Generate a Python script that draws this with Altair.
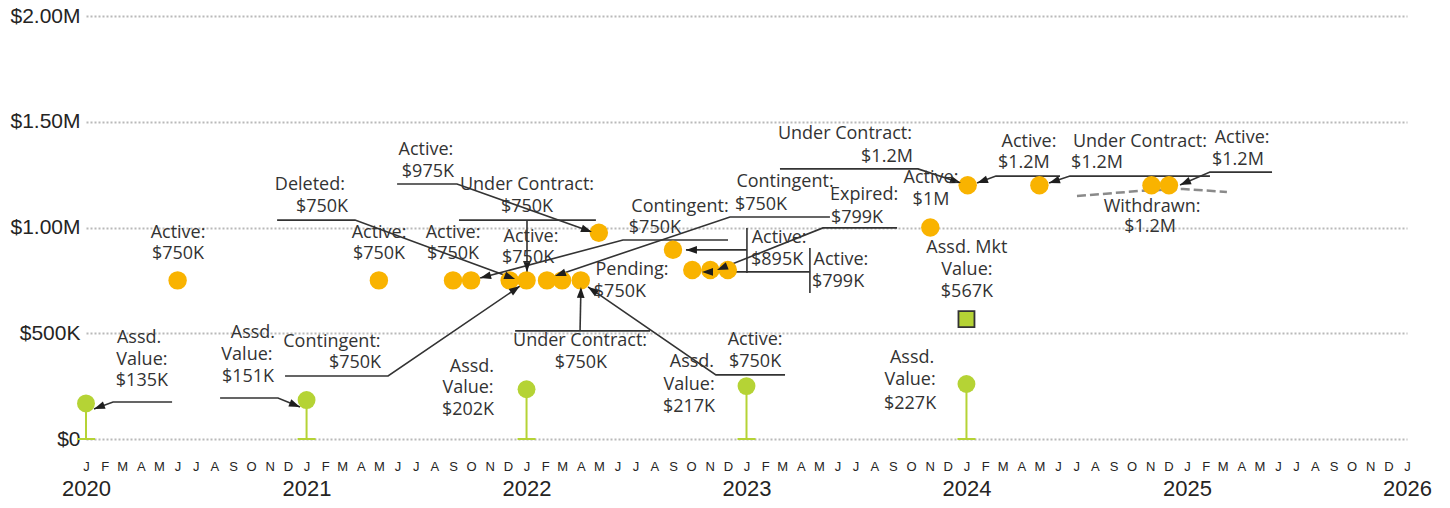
import math
import altair as alt
import pandas as pd

# ---------------- data ----------------
W, H = 1321, 423
YMAX = 2_000_000
T0 = pd.Timestamp("2020-01-01")
T1 = pd.Timestamp("2026-01-01")

listing_dates = ["2020-06-01", "2021-05-01", "2021-09-01", "2021-10-01", "2021-12-04",
                 "2022-01-01", "2022-02-04", "2022-03-01", "2022-04-01", "2022-05-01",
                 "2022-09-01", "2022-10-03", "2022-11-02", "2022-12-01", "2023-11-02",
                 "2024-01-03", "2024-05-01", "2024-11-03", "2024-12-02"]
listing_values = [750000, 750000, 750000, 750000, 750000,
                  750000, 750000, 750000, 750000, 975000,
                  895000, 799000, 799000, 799000, 1000000,
                  1200000, 1200000, 1200000, 1200000]

assd_dates = ["2020-01-01", "2021-01-01", "2022-01-01", "2023-01-01", "2024-01-01"]
assd_values = [135000, 151000, 202000, 217000, 227000]

mkt_dates = ["2024-01-01"]
mkt_values = [567000]

# annotation text lines: text, anchor (decimal year), anchor value ($K)
label_text = ["Active:", "$750K", "Active:", "$750K", "Active:", "$750K",
              "Deleted:", "$750K", "Active:", "$975K", "Under Contract:", "$750K",
              "Active:", "$750K", "Contingent:", "$750K", "Contingent:", "$750K",
              "Pending:", "$750K", "Active:", "$895K", "Active:", "$799K",
              "Expired:", "$799K", "Under Contract:", "$1.2M", "Active:", "$1M",
              "Active:", "$1.2M", "Under Contract:", "$1.2M", "Active:", "$1.2M",
              "Withdrawn:", "$1.2M", "Assd. Mkt", "Value:", "$567K",
              "Assd.", "Value:", "$135K", "Assd.", "Value:", "$151K",
              "Contingent:", "$750K", "Assd.", "Value:", "$202K",
              "Under Contract:", "$750K", "Assd.", "Value:", "$217K",
              "Active:", "$750K", "Assd.", "Value:", "$227K"]
label_year = [2020.418, 2020.418, 2021.331, 2021.331, 2021.667, 2021.667,
              2021.017, 2021.072, 2021.544, 2021.553, 2022.003, 2022.003,
              2022.021, 2022.008, 2022.698, 2022.584, 2023.175, 2023.066,
              2022.480, 2022.425, 2023.148, 2023.139, 2023.429, 2023.416,
              2023.534, 2023.502, 2023.447, 2023.638, 2023.838, 2023.838,
              2024.283, 2024.260, 2024.787, 2024.592, 2025.251, 2025.232,
              2024.842, 2024.833, 2024.001, 2024.001, 2024.001,
              2020.241, 2020.254, 2020.254, 2020.758, 2020.731, 2020.736,
              2021.117, 2021.222, 2021.753, 2021.735, 2021.735,
              2022.244, 2022.248, 2022.752, 2022.739, 2022.739,
              2023.039, 2023.039, 2023.752, 2023.743, 2023.743]
label_k = [974, 875, 974, 875, 974, 875,
           1201, 1097, 1366, 1262, 1201, 1097,
           955, 856, 1097, 998, 1215, 1106,
           799, 695, 950, 846, 846, 742,
           1154, 1045, 1442, 1333, 1234, 1130,
           1404, 1305, 1404, 1305, 1423, 1319,
           1097, 1002, 903, 799, 695,
           478, 374, 274, 501, 397, 293,
           459, 359, 340, 241, 137,
           463, 359, 364, 255, 151,
           468, 364, 383, 279, 165]

# leader lines (decimal year, $K) and whether they end with an arrow head
leaders = [
    ([(2020.868, 1035), (2021.222, 1035), (2021.949, 756)], True),
    ([(2021.413, 1206), (2021.685, 1206), (2022.298, 979)], True),
    ([(2021.694, 1035), (2022.316, 1035)], False),
    ([(2022.003, 1035), (2022.003, 790)], True),
    ([(2022.916, 941), (2022.439, 941), (2021.790, 761)], True),
    ([(2023.379, 1050), (2022.925, 1050), (2022.130, 771)], True),
    ([(2023.002, 998), (2023.002, 785)], False),
    ([(2023.002, 894), (2022.725, 894)], True),
    ([(2023.288, 903), (2023.288, 690)], False),
    ([(2023.288, 790), (2022.798, 790)], True),
    ([(2023.684, 998), (2023.347, 998), (2022.866, 799)], True),
    ([(2023.152, 1277), (2023.779, 1277), (2023.974, 1210)], True),
    ([(2024.424, 1243), (2024.133, 1243), (2024.047, 1210)], True),
    ([(2025.105, 1243), (2024.469, 1243), (2024.374, 1210)], True),
    ([(2025.387, 1262), (2025.105, 1262), (2024.969, 1201)], True),
    ([(2020.904, 298), (2021.372, 298), (2021.971, 723)], True),
    ([(2021.949, 511), (2022.562, 511)], False),
    ([(2022.244, 511), (2022.248, 719)], True),
    ([(2023.175, 303), (2022.861, 303), (2022.280, 719)], True),
    ([(2020.391, 175), (2020.123, 175), (2020.036, 142)], True),
    ([(2020.609, 194), (2020.872, 194), (2020.972, 151)], True),
]
withdrawn_line = [(2024.501, 1149), (2024.787, 1173), (2024.983, 1182), (2025.182, 1168)]

# ---------------- helpers ----------------
def yr(y):
    return T0 + (T1 - T0) * ((y - 2020) / 6)

GREEN = "#B5D335"
ORANGE = "#F9B300"
INK = "#333333"
ARROW = "M0,0L-2,-0.7L-2,0.7Z"

listing_df = pd.DataFrame({"t": pd.to_datetime(listing_dates), "v": listing_values})
assd_df = pd.DataFrame({"t": pd.to_datetime(assd_dates), "v": assd_values,
                        "zero": [0] * len(assd_values)})
mkt_df = pd.DataFrame({"t": pd.to_datetime(mkt_dates), "v": mkt_values})
label_df = pd.DataFrame({"t": [yr(y) for y in label_year],
                         "v": [k * 1000 for k in label_k], "text": label_text})

rows, heads = [], []
for i, (pts, arrow) in enumerate(leaders):
    for j, (y, k) in enumerate(pts):
        rows.append({"id": i, "seq": j, "t": yr(y), "v": k * 1000})
    if arrow:
        (y1, k1), (y2, k2) = pts[-2], pts[-1]
        dx = (y2 - y1) / 6 * W
        dy = -(k2 - k1) * 1000 / YMAX * H
        ang = math.degrees(math.atan2(dy, dx)) % 360
        heads.append({"t": yr(y2), "v": k2 * 1000, "angle": ang})
lead_df = pd.DataFrame(rows)
head_df = pd.DataFrame(heads)
wd_df = pd.DataFrame({"seq": list(range(len(withdrawn_line))),
                      "t": [yr(y) for y, _ in withdrawn_line],
                      "v": [k * 1000 for _, k in withdrawn_line]})

xs = alt.Scale(domain=[alt.DateTime(year=2020, month=1, date=1),
                       alt.DateTime(year=2026, month=1, date=1)], nice=False)
ys = alt.Scale(domain=[0, YMAX], nice=False)

month_vals = [alt.DateTime(year=y, month=m, date=1) for y in range(2020, 2026) for m in range(1, 13)]
month_vals.append(alt.DateTime(year=2026, month=1, date=1))
year_vals = [alt.DateTime(year=y, month=1, date=1) for y in range(2020, 2027)]

month_axis = alt.Axis(values=month_vals, labelExpr="substring(timeFormat(datum.value, '%b'), 0, 1)",
                      grid=False, domain=False, ticks=False, tickSize=0, labelPadding=21,
                      labelFontSize=13, labelFont="Liberation Sans", labelColor="#252423",
                      labelOverlap=False, labelFlush=False, title=None, orient="bottom")
year_axis = alt.Axis(values=year_vals, format="%Y", grid=False, domain=False, ticks=False,
                     tickSize=0, labelPadding=39, labelFontSize=22, labelFont="Liberation Sans",
                     labelColor="#252423", labelOverlap=False, labelFlush=False, title=None,
                     orient="bottom")
y_axis = alt.Axis(values=[0, 500000, 1000000, 1500000, 2000000],
                  labelExpr="datum.value == 0 ? '$0' : (datum.value < 1000000 ? '$' + format(datum.value / 1000, 'd') + 'K' : '$' + format(datum.value / 1000000, '.2f') + 'M')",
                  grid=True, gridDash=[2, 2], gridColor="#B9B9B9", gridWidth=2,
                  domain=False, ticks=False, tickSize=0, labelPadding=6, labelFontSize=21,
                  labelFont="Liberation Sans", labelColor="#252423", title=None)

def X(axis=None):
    return alt.X("t:T", scale=xs, axis=axis)

def Y(field="v"):
    return alt.Y(f"{field}:Q", scale=ys, axis=y_axis)

stems = alt.Chart(assd_df).mark_rule(color=GREEN, strokeWidth=2).encode(
    x=X(month_axis), y=Y("zero"), y2="v:Q")
bases = alt.Chart(assd_df).mark_tick(color=GREEN, orient="horizontal", size=18,
                                     thickness=2, opacity=1).encode(
    x=X(year_axis), y=Y("zero"))
lead = alt.Chart(lead_df).mark_line(color=INK, strokeWidth=1.6).encode(
    x=X(), y=Y(), detail="id:N", order="seq:Q")
wd = alt.Chart(wd_df).mark_line(color="#8A8A8A", strokeWidth=2.5, strokeDash=[9, 4]).encode(
    x=X(), y=Y(), order="seq:Q")
listing = alt.Chart(listing_df).mark_circle(color=ORANGE, size=340, opacity=1).encode(x=X(), y=Y())
assd = alt.Chart(assd_df).mark_circle(color=GREEN, size=320, opacity=1, yOffset=-7).encode(x=X(), y=Y())
mkt = alt.Chart(mkt_df).mark_square(color=GREEN, size=256, opacity=1, stroke="#333333",
                                    strokeWidth=1.8).encode(x=X(), y=Y())
arrows = alt.Chart(head_df).mark_point(shape=ARROW, filled=True, size=121, color="#1E1E1E",
                                       opacity=1, strokeWidth=0).encode(
    x=X(), y=Y(), angle=alt.Angle("angle:Q", scale=None))
texts = alt.Chart(label_df).mark_text(font="Open Sans", fontSize=18, color=INK,
                                      align="center", baseline="middle").encode(
    x=X(), y=Y(), text="text:N")

chart = alt.layer(stems, bases, lead, wd, listing, assd, mkt, arrows, texts).resolve_axis(
    x="independent"
).properties(
    width=W, height=H,
    autosize=alt.AutoSizeParams(type="none"),
    padding={"left": 78, "top": 8, "right": 35, "bottom": 61},
).configure_view(stroke=None)

chart.save("out.html", embed_options={"renderer": "svg", "actions": False})
